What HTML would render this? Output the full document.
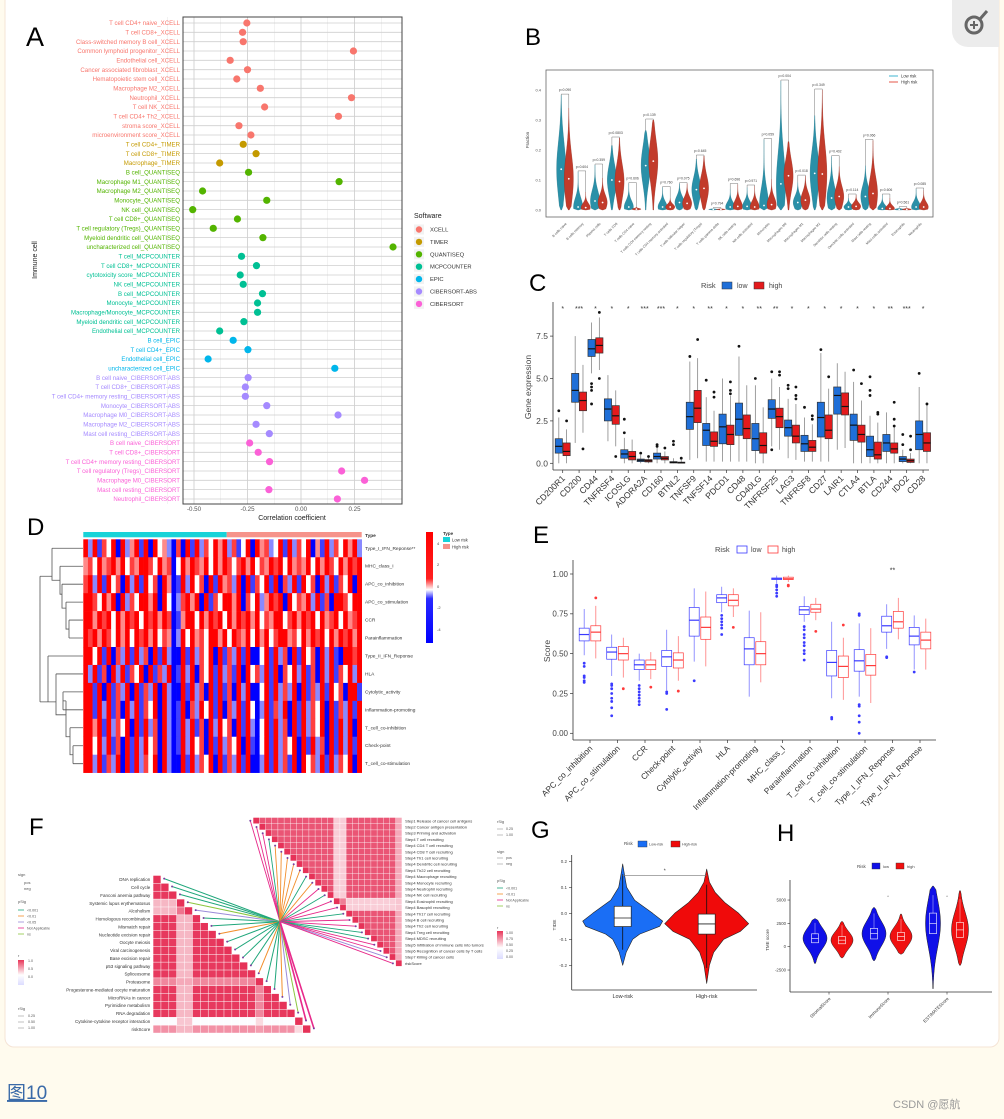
<!DOCTYPE html>
<html><head><meta charset="utf-8"><style>
html,body{margin:0;padding:0;background:#fffbee;width:1004px;height:1119px;overflow:hidden}
svg{display:block}
text{font-family:"Liberation Sans","Noto Sans CJK SC",sans-serif}
</style></head><body>
<svg id="fig" width="1004" height="1119" viewBox="0 0 1004 1119" xmlns="http://www.w3.org/2000/svg">
<rect x="5" y="-8" width="994" height="1055" rx="9" fill="#ffffff" stroke="#f5e4d6"/>
<g>
<path d="M952 0 H999 V47 H968 A16 16 0 0 1 952 31 Z" fill="#ececec"/>
<circle cx="974" cy="25" r="8" fill="none" stroke="#666" stroke-width="3"/>
<line x1="980" y1="19" x2="987" y2="11" stroke="#666" stroke-width="3"/>
<line x1="970" y1="25" x2="978" y2="25" stroke="#666" stroke-width="2"/>
<line x1="974" y1="21" x2="974" y2="29" stroke="#666" stroke-width="2"/>
</g>
<text x="26" y="46" font-size="27">A</text>
<text x="525" y="45" font-size="24">B</text>
<text x="529" y="291" font-size="24">C</text>
<text x="27" y="535" font-size="24">D</text>
<text x="533" y="543" font-size="24">E</text>
<text x="29" y="835" font-size="24">F</text>
<text x="531" y="838" font-size="24">G</text>
<text x="777" y="841" font-size="24">H</text>
<text x="7" y="1099" font-size="19" fill="#3a6aa8" text-decoration="underline">图10</text>
<text x="893" y="1108" font-size="11" fill="#9a9a9a">CSDN @愿航</text>
</svg>
<script>
const NS='http://www.w3.org/2000/svg';
const svg=document.getElementById('fig');
function mk(tag,attrs,parent,txt){const e=document.createElementNS(NS,tag);for(const k in attrs)e.setAttribute(k,attrs[k]);if(txt!==undefined)e.textContent=txt;(parent||svg).appendChild(e);return e;}

/* ================= Panel A data ================= */
const aCells=["T cell CD4+ naive_XCELL","T cell CD8+_XCELL","Class-switched memory B cell_XCELL","Common lymphoid progenitor_XCELL","Endothelial cell_XCELL","Cancer associated fibroblast_XCELL","Hematopoietic stem cell_XCELL","Macrophage M2_XCELL","Neutrophil_XCELL","T cell NK_XCELL","T cell CD4+ Th2_XCELL","stroma score_XCELL","microenvironment score_XCELL","T cell CD4+_TIMER","T cell CD8+_TIMER","Macrophage_TIMER","B cell_QUANTISEQ","Macrophage M1_QUANTISEQ","Macrophage M2_QUANTISEQ","Monocyte_QUANTISEQ","NK cell_QUANTISEQ","T cell CD8+_QUANTISEQ","T cell regulatory (Tregs)_QUANTISEQ","Myeloid dendritic cell_QUANTISEQ","uncharacterized cell_QUANTISEQ","T cell_MCPCOUNTER","T cell CD8+_MCPCOUNTER","cytotoxicity score_MCPCOUNTER","NK cell_MCPCOUNTER","B cell_MCPCOUNTER","Monocyte_MCPCOUNTER","Macrophage/Monocyte_MCPCOUNTER","Myeloid dendritic cell_MCPCOUNTER","Endothelial cell_MCPCOUNTER","B cell_EPIC","T cell CD4+_EPIC","Endothelial cell_EPIC","uncharacterized cell_EPIC","B cell naive_CIBERSORT-ABS","T cell CD8+_CIBERSORT-ABS","T cell CD4+ memory resting_CIBERSORT-ABS","Monocyte_CIBERSORT-ABS","Macrophage M0_CIBERSORT-ABS","Macrophage M2_CIBERSORT-ABS","Mast cell resting_CIBERSORT-ABS","B cell naive_CIBERSORT","T cell CD8+_CIBERSORT","T cell CD4+ memory resting_CIBERSORT","T cell regulatory (Tregs)_CIBERSORT","Macrophage M0_CIBERSORT","Mast cell resting_CIBERSORT","Neutrophil_CIBERSORT"];
const aValues=[-0.253,-0.273,-0.27,0.245,-0.331,-0.25,-0.30,-0.19,0.236,-0.17,0.175,-0.29,-0.234,-0.27,-0.21,-0.38,-0.245,0.178,-0.46,-0.16,-0.506,-0.297,-0.41,-0.178,0.43,-0.278,-0.208,-0.284,-0.27,-0.18,-0.203,-0.203,-0.267,-0.38,-0.317,-0.248,-0.434,0.158,-0.247,-0.26,-0.26,-0.16,0.173,-0.21,-0.148,-0.24,-0.2,-0.147,0.19,0.297,-0.15,0.17];
const aSoftNames=["XCELL","TIMER","QUANTISEQ","MCPCOUNTER","EPIC","CIBERSORT-ABS","CIBERSORT"];
const aSoftCounts=[13,3,9,9,4,7,7];
const aSoftColors=["#F8766D","#C49A00","#53B400","#00C094","#00B6EB","#A58AFF","#FB61D7"];
const aTicks=[-0.5,-0.25,0,0.25];
const aTickLabels=["-0.50","-0.25","0.00","0.25"];

/* ================= Panel B data ================= */
const bCells=["B cells naive","B cells memory","Plasma cells","T cells CD8","T cells CD4 naive","T cells CD4 memory resting","T cells CD4 memory activated","T cells follicular helper","T cells regulatory (Tregs)","T cells gamma delta","NK cells resting","NK cells activated","Monocytes","Macrophages M0","Macrophages M1","Macrophages M2","Dendritic cells resting","Dendritic cells activated","Mast cells resting","Mast cells activated","Eosinophils","Neutrophils"];
const bLowMax=[0.383,0.127,0.15,0.215,0.088,0.265,0.075,0.088,0.17,0.005,0.07,0.075,0.235,0.43,0.092,0.315,0.178,0.04,0.148,0.05,0.008,0.07];
const bLowMed=[0.136,0.01,0.03,0.1,0.01,0.148,0.01,0.025,0.068,0.002,0.01,0.012,0.015,0.087,0.025,0.122,0.04,0.01,0.045,0.005,0.002,0.01];
const bHighMax=[0.34,0.06,0.107,0.24,0.01,0.3,0.04,0.088,0.18,0.005,0.085,0.08,0.103,0.228,0.113,0.4,0.145,0.05,0.232,0.04,0.008,0.065];
const bHighMed=[0.104,0.008,0.025,0.095,0.003,0.163,0.01,0.022,0.072,0.002,0.012,0.01,0.018,0.114,0.033,0.12,0.045,0.012,0.055,0.005,0.002,0.01];
const bPvals=["0.090","0.604","0.359","0.0803","0.606","0.139","0.760","0.075","0.645","0.794","0.696","0.971","0.059","0.004","0.018","0.349","0.402","0.114","0.066","0.606","0.561","0.085"];
const bTicks=[0,0.1,0.2,0.3,0.4];

/* ================= Panel C data ================= */
const cGenes=["CD200R1","CD200","CD44","TNFRSF4","ICOSLG","ADORA2A","CD160","BTNL2","TNFSF9","TNFSF14","PDCD1","CD48","CD40LG","TNFRSF25","LAG3","TNFRSF8","CD27","LAIR1","CTLA4","BTLA","CD244","IDO2","CD28"];
const cLowQ1=[0.6,3.6,6.3,2.5,0.3,0.1,0.25,0.02,2.0,1.05,1.15,1.65,0.75,2.65,1.6,0.7,1.55,2.9,1.35,0.4,0.7,0.1,0.8];
const cLowMed=[1.0,4.3,6.75,3.2,0.55,0.18,0.4,0.05,2.75,1.95,2.15,2.6,1.45,3.2,2.1,1.15,2.7,4.0,2.25,0.8,1.2,0.25,1.7];
const cLowQ3=[1.45,5.3,7.3,3.8,0.8,0.25,0.6,0.1,3.6,2.35,2.9,3.55,2.35,3.75,2.55,1.65,3.6,4.5,2.9,1.6,1.7,0.4,2.5];
const cLowMin=[0,1.2,5.3,1.3,0,0,0,0,0.2,0.1,0.1,0.1,0,1.0,0.3,0.1,0.1,0.8,0,0,0,0,0];
const cLowMax=[2.7,7.5,8.3,5.2,1.5,0.5,1.0,0.3,6.0,3.9,5.0,6.3,4.6,5.0,3.8,2.7,6.5,5.9,4.8,2.8,3.0,0.8,4.5];
const cHighQ1=[0.45,3.1,6.5,2.3,0.2,0.08,0.2,0.01,2.4,1.0,1.1,1.45,0.6,2.1,1.2,0.7,1.45,2.85,1.25,0.25,0.6,0.05,0.7];
const cHighMed=[0.7,3.7,6.95,2.8,0.4,0.15,0.3,0.03,3.25,1.3,1.7,2.05,1.05,2.75,1.6,0.95,1.95,3.35,1.7,0.5,0.85,0.15,1.2];
const cHighQ3=[1.2,4.2,7.4,3.4,0.7,0.22,0.4,0.07,4.3,1.85,2.25,2.85,1.8,3.25,2.25,1.35,2.85,4.15,2.25,1.25,1.2,0.25,1.8];
const cHighMin=[0,1.8,5.5,1.0,0,0,0,0,0.3,0.1,0.1,0.1,0,0.8,0.2,0.1,0.1,0.9,0,0,0,0,0];
const cHighMax=[2.0,5.8,8.6,4.3,1.4,0.45,0.7,0.2,6.2,3.1,4.0,4.6,3.3,4.5,3.5,2.3,4.4,5.4,3.7,2.4,2.2,0.6,3.5];
const cLowOut=[[3.1],[],[4.7,4.5,4.3,3.5],[],[2.6,1.8],[0.6],[1.1,1.0],[1.3,1.1],[6.3],[4.9],[],[6.9],[5.0],[5.4,0.8],[4.6,4.4],[3.3],[6.7],[],[5.5],[5.1,4.3,4.0],[],[1.7,1.1],[5.3]];
const cHighOut=[[2.5],[0.85],[8.9,5.0],[0.4],[],[0.4],[0.9],[0.3],[7.3],[4.2,3.9],[4.8,4.3,4.1],[],[],[5.4,5.2],[4.5,4.0,3.8],[2.8,2.6],[5.1],[],[4.7],[3.0,2.9],[3.6,2.6,2.2],[1.6,0.8],[3.5]];
const cStars=["*","***","*","*","*","***","***","*","*","**","*","*","**","**","*","*","*","*","*","*","**","***","*"];
const cTicks=[0,2.5,5,7.5];
const cTickLabels=["0.0","2.5","5.0","7.5"];

/* ================= Panel D data ================= */
const dRows=["Type_I_IFN_Reponse**","MHC_class_I","APC_co_inhibition","APC_co_stimulation","CCR","Parainflammation","Type_II_IFN_Reponse","HLA","Cytolytic_activity","Inflammation-promoting","T_cell_co-inhibition","Check-point","T_cell_co-stimulation"];
const dValues=[
"738264817358271845306172836485736248175634827364815273648573",
"564756857465786475604758657485764675846576847565748576475867",
"683827461837284617502837461827563817264827163827461837264817",
"786475817364875817403675817264785716483576817465837261876487",
"875867485768476857602578475867485768574657846857684756847568",
"768576475847685746503847564875847657485746875647586748576857",
"884827163827361827301827364817263827104827361827461837208768",
"837261837264817263702837164827362817463827164837261837264837",
"872817263817263817301827361827261837104827363817263827461872",
"872837261837264817302816374827163827403826371827364817263827",
"785827364817283618302738261837461827304827361827364817283718",
"784837261827384617302837461827364817204827364817283617283827",
"873826371827364817301827364817263827103827362817463827364817"];

/* ================= Panel E data ================= */
const eCats=["APC_co_inhibition","APC_co_stimulation","CCR","Check-point","Cytolytic_activity","HLA","Inflammation-promoting","MHC_class_I","Parainflammation","T_cell_co-inhibition","T_cell_co-stimulation","Type_I_IFN_Reponse","Type_II_IFN_Reponse"];
const eLowQ1=[0.58,0.465,0.40,0.42,0.61,0.82,0.43,0.965,0.745,0.36,0.39,0.635,0.555];
const eLowMed=[0.62,0.51,0.43,0.48,0.71,0.85,0.53,0.97,0.775,0.445,0.455,0.675,0.61];
const eLowQ3=[0.66,0.54,0.46,0.52,0.79,0.87,0.60,0.975,0.795,0.52,0.525,0.735,0.665];
const eLowMin=[0.49,0.36,0.33,0.27,0.45,0.76,0.23,0.94,0.70,0.22,0.23,0.53,0.40];
const eLowMax=[0.78,0.62,0.50,0.65,0.91,0.92,0.77,0.99,0.86,0.70,0.69,0.81,0.74];
const eHighQ1=[0.58,0.46,0.40,0.41,0.59,0.80,0.43,0.965,0.76,0.35,0.365,0.66,0.53];
const eHighMed=[0.635,0.50,0.43,0.46,0.665,0.835,0.50,0.97,0.78,0.42,0.425,0.70,0.585];
const eHighQ3=[0.675,0.545,0.46,0.505,0.73,0.87,0.575,0.98,0.81,0.485,0.495,0.765,0.635];
const eHighMin=[0.47,0.35,0.34,0.33,0.42,0.73,0.32,0.95,0.71,0.21,0.19,0.59,0.40];
const eHighMax=[0.80,0.60,0.51,0.61,0.89,0.91,0.76,0.99,0.85,0.60,0.66,0.85,0.72];
const eLowOut=[[0.44,0.42,0.36,0.35,0.33,0.32],[0.31,0.30,0.28,0.25,0.22,0.20,0.16,0.11],[0.30,0.28,0.26,0.24,0.22,0.20,0.18],[0.26,0.25,0.15],[0.33],[0.74,0.72,0.70,0.68,0.66,0.62],[],[0.93,0.92,0.90,0.88,0.86],[0.67,0.65,0.62,0.60,0.57,0.55,0.52,0.50,0.46],[0.10,0.09],[0.75,0.74,0.18,0.17,0.11,0.07,0.0],[0.48,0.475],[0.385]];
const eHighOut=[[0.85],[0.28],[0.29],[0.265],[],[0.665],[],[0.93,0.925],[0.64],[0.68],[],[],[]];
const eTicks=[0,0.25,0.5,0.75,1];
const eTickLabels=["0.00","0.25","0.50","0.75","1.00"];

/* ================= Panel F data ================= */
const fLeftRows=["DNA replication","Cell cycle","Fanconi anemia pathway","Systemic lupus erythematosus","Alcoholism","Homologous recombination","Mismatch repair","Nucleotide excision repair","Oocyte meiosis","Viral carcinogenesis","Base excision repair","p53 signaling pathway","Spliceosome","Proteasome","Progesterone-mediated oocyte maturation","MicroRNAs in cancer","Pyrimidine metabolism","RNA degradation","Cytokine-cytokine receptor interaction","riskScore"];
const fLeftGroup=[0,0,0,1,1,0,0,0,0,0,0,0,0,2,0,0,0,0,3,4];
const fLeftBlock=[[0.8,0.15,0.35,-0.05,0.3],[0.15,0.45,0.2,0.1,0.15],[0.35,0.2,1,0.05,0.25],[-0.05,0.1,0.05,0.5,0.05],[0.3,0.15,0.25,0.05,1]];
const fLeftSig=[0,0,0,4,2,0,0,1,0,0,0,0,1,0,0,1,2,4,3,3];
const fRightRows=["Step1 Release of cancer cell antigens","Step2 Cancer antigen presentation","Step3 Priming and activation","Step4 T cell recruiting","Step4 CD4 T cell recruiting","Step4 CD8 T cell recruiting","Step4 Th1 cell recruiting","Step4 Dendritic cell recruiting","Step4 Th22 cell recruiting","Step4 Macrophage recruiting","Step4 Monocyte recruiting","Step4 Neutrophil recruiting","Step4 NK cell recruiting","Step4 Eosinophil recruiting","Step4 Basophil recruiting","Step4 Th17 cell recruiting","Step4 B cell recruiting","Step4 Th2 cell recruiting","Step4 Treg cell recruiting","Step4 MDSC recruiting","Step5 Infiltration of immune cells into tumors","Step6 Recognition of cancer cells by T cells","Step7 Killing of cancer cells","riskScore"];
const fRightGroup=[0,0,0,0,0,0,0,0,0,0,0,0,0,1,1,0,0,0,0,0,0,0,0,2];
const fRightBlock=[[0.62,0.08,0.2],[0.08,0.4,0.1],[0.2,0.1,1]];
const fRightSig=[3,3,3,0,1,1,1,1,1,0,1,3,0,3,3,0,3,3,0,0,3,3,2,3];
const fSigNames=["<0.001","<0.01","<0.05","Not Applicable","ns"];
const fSigColors=["#1fa67a","#f28e2b","#9a8ad8","#e7298a","#8cc63f"];

/* ================= Panel G data ================= */
const gGroups=["Low-risk","High-risk"];
const gLowLevels=[0.19,0.15,0.10,0.05,0.0,-0.03,-0.05,-0.08,-0.10,-0.15,-0.20];
const gLowWidths=[0,1.7,4,12,30,40,37,17,10,3.5,0];
const gHighLevels=[0.17,0.12,0.08,0.04,0.0,-0.04,-0.07,-0.10,-0.15,-0.20,-0.27];
const gHighWidths=[0,2.7,8.5,18.5,32,42,33.5,17,7,2.7,0];
const gQ1=[-0.051,-0.08];
const gMed=[-0.018,-0.041];
const gQ3=[0.027,-0.003];
const gWhiskLo=[-0.14,-0.21];
const gWhiskHi=[0.15,0.11];
const gTicks=[-0.2,-0.1,0,0.1,0.2];

/* ================= Panel H data ================= */
const hCats=["StromalScore","ImmuneScore","ESTIMATEScore"];
const hLowMin=[-1800,-1500,-4500];
const hLowMed=[900,1400,2500];
const hLowMax=[3000,4200,6500];
const hHighMin=[-1200,-800,-2000];
const hHighMed=[700,1100,1800];
const hHighMax=[2700,3500,6000];
const hTicks=[-2500,0,2500,5000];

/* ================= Panel A drawing ================= */
(function(){
const g=mk('g',{});


const xA=v=>301+v*214, yA=i=>23+i*9.333;
const L=183,R=402,T=17,B=504;
mk('rect',{x:L,y:T,width:R-L,height:B-T,fill:'#fff'},g);
for(let v=-0.625;v<=0.45;v+=0.125){const l=mk('line',{x1:xA(v),x2:xA(v),y1:T,y2:B,stroke:'#e4e4e4','stroke-width':0.5},g);}
aTicks.forEach((v,k)=>{const l=mk('line',{x1:xA(v),x2:xA(v),y1:T,y2:B,stroke:'#cfcfcf','stroke-width':0.8},g);
const t=mk('text',{x:xA(v),y:511,'font-size':6.2,fill:'#555','text-anchor':'middle'},g,aTickLabels[k]);});
let idx=0;
aSoftCounts.forEach((n,s)=>{for(let j=0;j<n;j++){const i=idx++;
const gl=mk('line',{x1:L,x2:R,y1:yA(i),y2:yA(i),stroke:'#cfcfcf','stroke-width':0.8},g);
const t=mk('text',{x:180,y:yA(i)+2.1,'font-size':6.1,fill:aSoftColors[s],'text-anchor':'end'},g,aCells[i]);
const c=mk('circle',{cx:xA(aValues[i]),cy:yA(i),r:3.6,fill:aSoftColors[s]},g);}});
mk('rect',{x:L,y:T,width:R-L,height:B-T,fill:'none',stroke:'#444','stroke-width':1},g);
const xt=mk('text',{x:292,y:520,'font-size':7,fill:'#222','text-anchor':'middle'},g,'Correlation coefficient');
const yt=mk('text',{x:37,y:260,'font-size':7,fill:'#222','text-anchor':'middle',transform:'rotate(-90 37 260)'},g,'Immune cell');
const lt=mk('text',{x:414,y:218,'font-size':7,fill:'#222'},g,'Software');
aSoftNames.forEach((n,s)=>{const y=229.5+s*12.4;mk('rect',{x:414,y:y-5,width:10,height:10,fill:'#f2f2f2'},g);
const c=mk('circle',{cx:419,cy:y,r:3.2,fill:aSoftColors[s]},g);
const t=mk('text',{x:430,y:y+2,'font-size':5.8,fill:'#333'},g,n);});
})();

/* ================= Panel B drawing ================= */
function violinD(cx,lo,hi,med,hw,ys){const n=28,s=Math.max((hi-lo)/4.2,1e-6);let r=[],l=[];for(let k=0;k<=n;k++){const v=lo+(hi-lo)*k/n;let w=hw*Math.exp(-Math.pow((v-med)/s,2)/2);if(k===0||k===n)w=Math.min(w,0.4);r.push([cx+w,ys(v)]);l.push([cx-w,ys(v)]);}
return 'M'+r.map(p=>p[0].toFixed(2)+' '+p[1].toFixed(2)).join(' L')+' L'+l.reverse().map(p=>p[0].toFixed(2)+' '+p[1].toFixed(2)).join(' L')+'Z';}
(function(){
const g=mk('g',{});


const yB=v=>210-v*300, xB=i=>565+i*16.9;
mk('rect',{x:546,y:70,width:387,height:147,fill:'#fff',stroke:'#666','stroke-width':0.8},g);
bTicks.forEach(v=>{const t=mk('text',{x:541,y:yB(v)+1.3,'font-size':4,fill:'#555','text-anchor':'end'},g,v.toFixed(1));});
const yt=mk('text',{x:529,y:140,'font-size':4.5,fill:'#444','text-anchor':'middle',transform:'rotate(-90 529 140)'},g,'Fraction');
bCells.forEach((n,i)=>{const c=xB(i);
const v1=mk('path',{d:violinD(c-3.8,0,bLowMax[i],bLowMed[i],4.6,yB),fill:'#2a90a8',stroke:'#1d6f82','stroke-width':0.3},g);
const v2=mk('path',{d:violinD(c+3.8,0,bHighMax[i],bHighMed[i],4.6,yB),fill:'#c23b2b',stroke:'#8e2a1f','stroke-width':0.3},g);
mk('circle',{cx:c-3.8,cy:yB(bLowMed[i]),r:0.9,fill:'#fff'},g);mk('circle',{cx:c+3.8,cy:yB(bHighMed[i]),r:0.9,fill:'#fff'},g);
const top=yB(Math.max(bLowMax[i],bHighMax[i]))-1;
const br=mk('path',{d:`M${c-3.8} ${yB(bLowMax[i])} V${top} H${c+3.8} V${yB(bHighMax[i])}`,fill:'none',stroke:'#555','stroke-width':0.4},g);
const p=mk('text',{x:c,y:top-3,'font-size':3.4,fill:'#444','text-anchor':'middle'},g,'p='+bPvals[i]);
const t=mk('text',{x:c+2,y:224,'font-size':3.4,fill:'#555','text-anchor':'end',transform:`rotate(-45 ${c+2} 224)`},g,n);});
mk('line',{x1:889,x2:898,y1:76,y2:76,stroke:'#3fb4d2','stroke-width':1},g);
const l1=mk('text',{x:901,y:77.5,'font-size':4.2,fill:'#333'},g,'Low risk');
mk('line',{x1:889,x2:898,y1:82,y2:82,stroke:'#e4574a','stroke-width':1},g);
const l2=mk('text',{x:901,y:83.5,'font-size':4.2,fill:'#333'},g,'High risk');
})();

/* ================= Panel C drawing ================= */
function boxplot(g,cx,w,q1,med,q3,lo,hi,outs,ys,fill,stroke,medCol,name,whisk){
const wl=mk('line',{x1:cx,x2:cx,y1:ys(lo),y2:ys(hi),stroke:whisk,'stroke-width':0.8},g);
const b=mk('rect',{x:cx-w/2,y:ys(q3),width:w,height:Math.max(ys(q1)-ys(q3),0.6),fill:fill,stroke:stroke,'stroke-width':0.7},g);
mk('line',{x1:cx-w/2,x2:cx+w/2,y1:ys(med),y2:ys(med),stroke:medCol,'stroke-width':1.2},g);
outs.forEach(o=>{const d=mk('circle',{cx:cx,cy:ys(o),r:1.4,fill:whisk==='#888'?'#111':stroke},g);});}
(function(){
const g=mk('g',{});


const yC=v=>463.3-v*16.96, xC=i=>562.7+i*16.38;
mk('line',{x1:553,x2:553,y1:302,y2:470,stroke:'#333','stroke-width':0.8},g);
mk('line',{x1:553,x2:929,y1:470,y2:470,stroke:'#333','stroke-width':0.8},g);
cTicks.forEach((v,k)=>{mk('line',{x1:550,x2:553,y1:yC(v),y2:yC(v),stroke:'#333','stroke-width':0.7},g);
const t=mk('text',{x:548,y:yC(v)+3,'font-size':8.5,fill:'#444','text-anchor':'end'},g,cTickLabels[k]);});
const yt=mk('text',{x:531,y:387,'font-size':8.5,fill:'#444','text-anchor':'middle',transform:'rotate(-90 531 387)'},g,'Gene expression');
cGenes.forEach((n,i)=>{const c=xC(i);
boxplot(g,c-3.9,7.2,cLowQ1[i],cLowMed[i],cLowQ3[i],cLowMin[i],cLowMax[i],cLowOut[i],yC,'#1f6fd8','#333','#111','box-low-'+n,'#888');
boxplot(g,c+3.9,7.2,cHighQ1[i],cHighMed[i],cHighQ3[i],cHighMin[i],cHighMax[i],cHighOut[i],yC,'#e41a1c','#333','#111','box-high-'+n,'#888');
mk('line',{x1:c,x2:c,y1:470,y2:473,stroke:'#333','stroke-width':0.7},g);
const s=mk('text',{x:c,y:311,'font-size':7,fill:'#333','text-anchor':'middle'},g,cStars[i]);
const t=mk('text',{x:c+3,y:479,'font-size':8.6,fill:'#333','text-anchor':'end',transform:`rotate(-45 ${c+3} 479)`},g,n);});
const lr=mk('text',{x:701,y:288,'font-size':7.5,fill:'#444'},g,'Risk');
const b1=mk('rect',{x:722,y:282,width:10,height:7,fill:'#1f6fd8',stroke:'#333','stroke-width':0.5},g);
mk('text',{x:737,y:288,'font-size':7,fill:'#444'},g,'low');
const b2=mk('rect',{x:754,y:282,width:10,height:7,fill:'#e41a1c',stroke:'#333','stroke-width':0.5},g);
mk('text',{x:769,y:288,'font-size':7,fill:'#444'},g,'high');
})();

/* ================= Panel D drawing ================= */
function hmCol(v){let r,gg,b;if(v>=0){const t=Math.pow(Math.min(v/3,1),0.7);r=255;gg=b=Math.round(255*(1-t));}else{const t=Math.pow(Math.min(-v/3,1),0.7);b=255;r=gg=Math.round(255*(1-t));}return `rgb(${r},${gg},${b})`;}
(function(){
const g=mk('g',{});


const X0=83.3,X1=361.7,Y0=539.3,rh=17.95,nc=60,cw=(X1-X0)/nc;
const tb1=mk('rect',{x:X0,y:532,width:226.7-X0,height:5.3,fill:'#17d3d8'},g);
const tb2=mk('rect',{x:226.7,y:532,width:X1-226.7,height:5.3,fill:'#f6938a'},g);
dValues.forEach((row,r)=>{for(let j=0;j<nc;j++){const ch=row[j]||'4';const v=parseInt(ch,10)-4;
const c=mk('rect',{x:(X0+j*cw).toFixed(2),y:(Y0+r*rh).toFixed(2),width:(cw+0.3).toFixed(2),height:rh+0.3,fill:hmCol(v)},g);}
const t=mk('text',{x:365,y:Y0+r*rh+rh/2+1.5,'font-size':4.8,fill:'#333'},g,dRows[r]);});
const tt=mk('text',{x:365,y:537,'font-size':4.8,fill:'#333','font-weight':'bold'},g,'Type');
const yr=r=>Y0+(r+0.5)*rh;
const dend=`M83 ${yr(0)} H52 M83 ${yr(1)} H60 M83 ${yr(2)} H62 M83 ${yr(3)} H66 M83 ${yr(4)} H69 M83 ${yr(5)} H69
M69 ${yr(4)} V${yr(5)} M66 ${yr(3)} V${(yr(4)+yr(5))/2} H69 M62 ${yr(2)} V${yr(3)+6} H66 M60 ${yr(1)} V${yr(2)+10} H62 M52 ${yr(0)} V${yr(1)+14} H60
M83 ${yr(6)} H48 M83 ${yr(7)} H56 M83 ${yr(8)} H63 M83 ${yr(9)} H63 M83 ${yr(10)} H70 M83 ${yr(11)} H73 M83 ${yr(12)} H73
M73 ${yr(11)} V${yr(12)} M70 ${yr(10)} V${yr(11)+9} H73 M63 ${yr(8)} V${yr(9)} M66 ${yr(8)+9} V${yr(10)+9} H70 M66 ${yr(8)+9} H63 M56 ${yr(7)} V${yr(9)+5} H66 M48 ${yr(6)} V${yr(8)+10} H56
M40 ${yr(1)+10} V${yr(8)+10} M40 ${yr(1)+10} H52 M40 ${yr(8)+10} H48`;
const dp=mk('path',{d:dend,fill:'none',stroke:'#555','stroke-width':0.8},g);
const grad=mk('defs',{},g);const lg=mk('linearGradient',{id:'dgrad',x1:0,y1:0,x2:0,y2:1},grad);
[[0,'#ff0000'],[0.42,'#ff2020'],[0.52,'#ffffff'],[0.6,'#2a2aff'],[1,'#0000ff']].forEach(s=>mk('stop',{offset:s[0],'stop-color':s[1]},lg));
const cb=mk('rect',{x:426,y:532,width:7,height:111,fill:'url(#dgrad)'},g);
[['4',545],['2',566],['0',588],['-2',609],['-4',631]].forEach(a=>mk('text',{x:437,y:a[1],'font-size':4,fill:'#444'},g,a[0]));
mk('text',{x:443,y:535,'font-size':4.5,fill:'#333','font-weight':'bold'},g,'Type');
mk('rect',{x:443,y:537,width:7,height:5,fill:'#17d3d8'},g);
const ll=mk('text',{x:452,y:541.5,'font-size':4.3,fill:'#333'},g,'Low risk');
mk('rect',{x:443,y:544,width:7,height:5,fill:'#f6938a'},g);
const lh=mk('text',{x:452,y:548.5,'font-size':4.3,fill:'#333'},g,'High risk');
})();

/* ================= Panel E drawing ================= */
(function(){
const g=mk('g',{});


const yE=v=>733.3-v*159.3, xE=i=>590+i*27.5;
mk('line',{x1:573,x2:573,y1:560,y2:740,stroke:'#333','stroke-width':0.8},g);
mk('line',{x1:573,x2:936,y1:740,y2:740,stroke:'#333','stroke-width':0.8},g);
eTicks.forEach((v,k)=>{mk('line',{x1:570,x2:573,y1:yE(v),y2:yE(v),stroke:'#333','stroke-width':0.7},g);
const t=mk('text',{x:568,y:yE(v)+2.8,'font-size':8,fill:'#444','text-anchor':'end'},g,eTickLabels[k]);});
const yt=mk('text',{x:550,y:651,'font-size':8.5,fill:'#444','text-anchor':'middle',transform:'rotate(-90 550 651)'},g,'Score');
eCats.forEach((n,i)=>{const c=xE(i);
boxplot(g,c-5.8,10,eLowQ1[i],eLowMed[i],eLowQ3[i],eLowMin[i],eLowMax[i],eLowOut[i],yE,'#fff','#3a3aff','#3a3aff','box-low-'+n,'#7a7aff');
boxplot(g,c+5.8,10,eHighQ1[i],eHighMed[i],eHighQ3[i],eHighMin[i],eHighMax[i],eHighOut[i],yE,'#fff','#ff3a3a','#ff3a3a','box-high-'+n,'#ff7a7a');
mk('line',{x1:c,x2:c,y1:740,y2:743,stroke:'#333','stroke-width':0.7},g);
const t=mk('text',{x:c+3,y:749,'font-size':8.3,fill:'#333','text-anchor':'end',transform:`rotate(-45 ${c+3} 749)`},g,n);});
const s=mk('text',{x:xE(11),y:yE(1.01),'font-size':7,fill:'#333','text-anchor':'middle'},g,'**');
const lr=mk('text',{x:715,y:552,'font-size':7.5,fill:'#444'},g,'Risk');
const b1=mk('rect',{x:737,y:546,width:10,height:7,fill:'#fff',stroke:'#3a3aff','stroke-width':0.8},g);
mk('text',{x:751,y:552,'font-size':7,fill:'#444'},g,'low');
const b2=mk('rect',{x:768,y:546,width:10,height:7,fill:'#fff',stroke:'#ff3a3a','stroke-width':0.8},g);
mk('text',{x:782,y:552,'font-size':7,fill:'#444'},g,'high');
})();

/* ================= Panel F drawing ================= */
function corrCol(v){if(v>=0){const t=Math.pow(Math.min(v/0.85,1),0.6);const r=Math.round(255-(255-230)*t),gg=Math.round(255-(255-50)*t),b=Math.round(255-(255-88)*t);return `rgb(${r},${gg},${b})`;}const t=Math.min(-v/0.5,1);return `rgb(${Math.round(255-35*t)},${Math.round(255-35*t)},255)`;}
(function(){
const g=mk('g',{});


const cx=280,cy=921.7;
const LX=153.3,LY=875.7,ls=7.88;
const nL=fLeftRows.length;
for(let i=0;i<nL;i++){for(let j=0;j<=i;j++){const v=i===j?1:fLeftBlock[fLeftGroup[i]][fLeftGroup[j]];
const c=mk('rect',{x:(LX+j*ls).toFixed(2),y:(LY+i*ls).toFixed(2),width:ls-0.5,height:ls-0.5,fill:corrCol(v)},g);}
const t=mk('text',{x:LX-3,y:LY+i*ls+ls/2+1.5,'font-size':4.5,fill:'#333','text-anchor':'end'},g,fLeftRows[i]);
const px=LX+(i+1)*ls+3,py=LY+i*ls+ls/2-1;
const ln=mk('line',{x1:cx,y1:cy,x2:px,y2:py,stroke:fSigColors[fLeftSig[i]],'stroke-width':i>=18?1.6:1},g);
mk('circle',{cx:px,cy:py,r:1,fill:'#7b3fa0'},g);}
const RX=253.3,RY=817.7,rs=6.2,nR=fRightRows.length;
for(let i=0;i<nR;i++){for(let j=i;j<nR;j++){const v=i===j?1:fRightBlock[fRightGroup[i]][fRightGroup[j]];
const c=mk('rect',{x:(RX+j*rs).toFixed(2),y:(RY+i*rs).toFixed(2),width:rs-0.4,height:rs-0.4,fill:corrCol(v)},g);}
const t=mk('text',{x:RX+nR*rs+3,y:RY+i*rs+rs/2+1.5,'font-size':4,fill:'#333'},g,fRightRows[i]);
const px=RX+i*rs-3,py=RY+i*rs+rs/2;
const ln=mk('line',{x1:cx,y1:cy,x2:px,y2:py,stroke:fSigColors[fRightSig[i]],'stroke-width':0.9},g);
mk('circle',{cx:px,cy:py,r:1,fill:'#7b3fa0'},g);}
const lgL=[[18,876,'sign'],[24,884,'pos'],[24,890,'neg'],[18,903,'pSig']];
lgL.forEach(a=>mk('text',{x:a[0],y:a[1],'font-size':4,fill:'#555'},g,a[2]));
fSigNames.forEach((n,k)=>{mk('line',{x1:18,x2:24,y1:910+k*6,y2:910+k*6,stroke:fSigColors[k],'stroke-width':0.8},g);const t=mk('text',{x:27,y:911.5+k*6,'font-size':3.6,fill:'#555'},g,n);});
const lgr=mk('defs',{},g);const lg=mk('linearGradient',{id:'fgrad',x1:0,y1:0,x2:0,y2:1},lgr);
[[0,'#e8365a'],[0.6,'#ffffff'],[1,'#dcdcff']].forEach(s=>mk('stop',{offset:s[0],'stop-color':s[1]},lg));
mk('text',{x:18,y:957,'font-size':4,fill:'#555'},g,'r');
const cb1=mk('rect',{x:18,y:960,width:6,height:25,fill:'url(#fgrad)'},g);
[['1.0',962],['0.5',970],['0.0',978]].forEach(a=>mk('text',{x:28,y:a[1],'font-size':3.6,fill:'#555'},g,a[0]));
mk('text',{x:18,y:1010,'font-size':4,fill:'#555'},g,'rSig');
[['0.25',1017],['0.50',1023],['1.00',1029]].forEach(a=>{mk('line',{x1:18,x2:24,y1:a[1]-1,y2:a[1]-1,stroke:'#999','stroke-width':0.6},g);mk('text',{x:28,y:a[1],'font-size':3.6,fill:'#555'},g,a[0]);});
[[497,823,'rSig'],[497,853,'sign'],[497,882,'pSig'],[497,929,'r']].forEach(a=>mk('text',{x:a[0],y:a[1],'font-size':4,fill:'#555'},g,a[2]));
[['0.25',830],['1.00',836],['pos',859],['neg',865]].forEach(a=>{mk('line',{x1:497,x2:503,y1:a[1]-1,y2:a[1]-1,stroke:'#999','stroke-width':0.6},g);mk('text',{x:506,y:a[1],'font-size':3.6,fill:'#555'},g,a[0]);});
[0,1,3,4].forEach((k,m)=>{mk('line',{x1:497,x2:503,y1:888+m*6,y2:888+m*6,stroke:fSigColors[k],'stroke-width':0.8},g);mk('text',{x:506,y:889.5+m*6,'font-size':3.6,fill:'#555'},g,fSigNames[k]);});
const cb2=mk('rect',{x:497,y:931,width:6,height:28,fill:'url(#fgrad)'},g);
[['1.00',934],['0.75',940],['0.50',946],['0.25',952],['0.00',958]].forEach(a=>mk('text',{x:506,y:a[1],'font-size':3.6,fill:'#555'},g,a[0]));
})();

/* ================= Panel G drawing ================= */
(function(){
const g=mk('g',{});


const yG=v=>913.3-v*260, xG=[622.7,706.7];
mk('line',{x1:571.7,x2:571.7,y1:855,y2:990,stroke:'#333','stroke-width':0.8},g);
mk('line',{x1:571.7,x2:757,y1:990,y2:990,stroke:'#333','stroke-width':0.8},g);
gTicks.forEach(v=>{mk('line',{x1:569,x2:571.7,y1:yG(v),y2:yG(v),stroke:'#333','stroke-width':0.6},g);
const t=mk('text',{x:567,y:yG(v)+1.5,'font-size':4.5,fill:'#444','text-anchor':'end'},g,v.toFixed(1));});
const yt=mk('text',{x:556,y:925,'font-size':4.8,fill:'#444','text-anchor':'middle',transform:'rotate(-90 556 925)'},g,'TIDE');
const prof=[[gLowLevels,gLowWidths,'#1a6ef5'],[gHighLevels,gHighWidths,'#f00a0a']];
prof.forEach((p,k)=>{const c=xG[k];const lv=p[0],wd=p[1];
let d='M'+lv.map((v,i)=>(c+wd[i]).toFixed(1)+' '+yG(v).toFixed(1)).join(' L');
d+=' L'+lv.map((v,i)=>(c-wd[i]).toFixed(1)+' '+yG(v).toFixed(1)).reverse().join(' L')+'Z';
const vp=mk('path',{d:d,fill:p[2],stroke:'#222','stroke-width':0.6,'stroke-linejoin':'round'},g);
mk('line',{x1:c,x2:c,y1:yG(gWhiskLo[k]),y2:yG(gWhiskHi[k]),stroke:'#111','stroke-width':0.8},g);
const b=mk('rect',{x:c-8.5,y:yG(gQ3[k]),width:17,height:yG(gQ1[k])-yG(gQ3[k]),fill:'#fff',stroke:'#222','stroke-width':0.7},g);
mk('line',{x1:c-8.5,x2:c+8.5,y1:yG(gMed[k]),y2:yG(gMed[k]),stroke:'#222','stroke-width':0.8},g);
const t=mk('text',{x:c,y:998,'font-size':5.5,fill:'#333','text-anchor':'middle'},g,gGroups[k]);});
const br=mk('line',{x1:xG[0],x2:xG[1],y1:yG(0.145),y2:yG(0.145),stroke:'#777','stroke-width':0.6},g);
mk('text',{x:(xG[0]+xG[1])/2,y:yG(0.145)-3,'font-size':5,fill:'#333','text-anchor':'middle'},g,'*');
mk('text',{x:624,y:845,'font-size':4.5,fill:'#444'},g,'Risk');
const l1=mk('rect',{x:638,y:841,width:9,height:6,fill:'#1a6ef5',stroke:'#333','stroke-width':0.4},g);
mk('text',{x:649,y:845.5,'font-size':3.8,fill:'#444'},g,'Low-risk');
const l2=mk('rect',{x:671,y:841,width:9,height:6,fill:'#f00a0a',stroke:'#333','stroke-width':0.4},g);
mk('text',{x:682,y:845.5,'font-size':3.8,fill:'#444'},g,'High-risk');
})();

/* ================= Panel H drawing ================= */
(function(){
const g=mk('g',{});


const yH=v=>946.7-v*0.009333, xH=i=>829+i*59;
mk('line',{x1:790,x2:790,y1:880,y2:992,stroke:'#333','stroke-width':0.8},g);
mk('line',{x1:790,x2:992,y1:992,y2:992,stroke:'#333','stroke-width':0.8},g);
hTicks.forEach(v=>{mk('line',{x1:787.5,x2:790,y1:yH(v),y2:yH(v),stroke:'#333','stroke-width':0.6},g);
const t=mk('text',{x:786,y:yH(v)+1.5,'font-size':4.3,fill:'#444','text-anchor':'end'},g,String(v));});
const yt=mk('text',{x:769,y:940,'font-size':4.5,fill:'#444','text-anchor':'middle',transform:'rotate(-90 769 940)'},g,'TME score');
hCats.forEach((n,i)=>{const c=xH(i);
[[c-14,hLowMin[i],hLowMax[i],hLowMed[i],'#1010e8','low'],[c+13,hHighMin[i],hHighMax[i],hHighMed[i],'#f01010','high']].forEach(s=>{
const hw=i===2?(s[5]==='low'?7.5:8.5):(s[5]==='low'?12:11);
const v=mk('path',{d:violinD(s[0],s[1],s[2],s[3],hw,yH),fill:s[4],stroke:'#222','stroke-width':0.5},g);
const q=(s[2]-s[1])*0.1;
mk('rect',{x:s[0]-3.5,y:yH(s[3]+q),width:7,height:yH(s[3]-q)-yH(s[3]+q),fill:'none',stroke:'#fff','stroke-width':0.6},g);
mk('line',{x1:s[0]-3.5,x2:s[0]+3.5,y1:yH(s[3]),y2:yH(s[3]),stroke:'#fff','stroke-width':0.6},g);
mk('line',{x1:s[0],x2:s[0],y1:yH(s[3]+q),y2:yH(s[2]*0.85),stroke:'#fff','stroke-width':0.4},g);});
mk('line',{x1:c,x2:c,y1:992,y2:994.5,stroke:'#333','stroke-width':0.6},g);
const t=mk('text',{x:c+2,y:999,'font-size':4.5,fill:'#333','text-anchor':'end',transform:`rotate(-45 ${c+2} 999)`},g,n);
if(i>0)mk('text',{x:c,y:yH(5200),'font-size':4,fill:'#444','text-anchor':'middle'},g,'*');});
mk('text',{x:857,y:868,'font-size':4.5,fill:'#444'},g,'Risk');
const l1=mk('rect',{x:872,y:863,width:8,height:6,fill:'#1010e8',stroke:'#333','stroke-width':0.4},g);
mk('text',{x:883,y:868,'font-size':4,fill:'#444'},g,'low');
const l2=mk('rect',{x:896,y:863,width:8,height:6,fill:'#f01010',stroke:'#333','stroke-width':0.4},g);
mk('text',{x:907,y:868,'font-size':4,fill:'#444'},g,'high');
})();
</script>
</body></html>
